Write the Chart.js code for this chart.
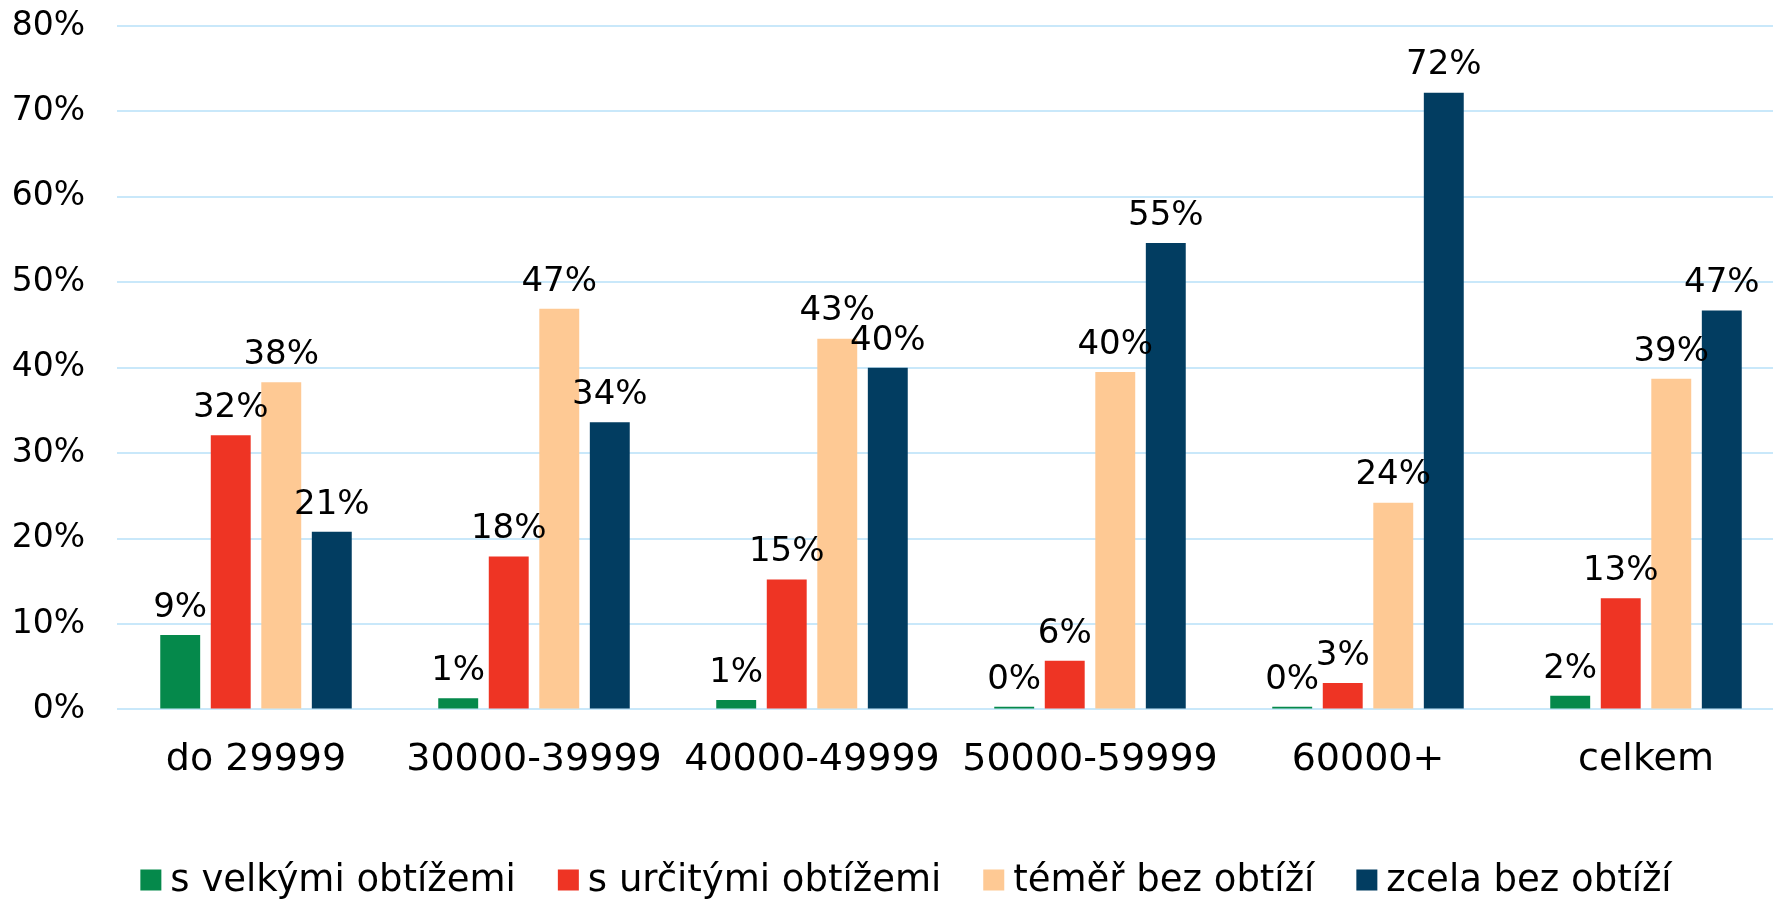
<!DOCTYPE html>
<html lang="cs">

<head>
  <meta charset="UTF-8">
  <title>Obtíže podle příjmu</title>
  <script src="https://cdn.jsdelivr.net/npm/chart.js"></script>
  <style>
    html, body { margin: 0; padding: 0; overflow: hidden; background: #fff; }
  </style>
</head>

<body>

  <canvas id="myChart" width="1785" height="899"></canvas>

  <script>
    // Data (percent)
    const categories = ['do 29999', '30000-39999', '40000-49999', '50000-59999', '60000+', 'celkem'];
    const seriesNames = ['s velkými obtížemi', 's určitými obtížemi', 'téměř bez obtíží', 'zcela bez obtíží'];
    const velkeObtize = [8.7, 1.3, 1.1, 0.3, 0.3, 1.6];
    const urciteObtize = [32.1, 17.9, 15.2, 5.7, 3.1, 13.0];
    const temerBez = [38.3, 46.9, 43.4, 39.5, 24.2, 38.7];
    const zcelaBez = [20.8, 33.6, 40.0, 54.6, 72.2, 46.7];
    const yMin = 0, yMax = 80, yStep = 10;
    const colors = ['#05894b', '#ee3424', '#fec994', '#023d61'];

    const FONT = '"DejaVu Sans", Verdana, sans-serif';

    // value labels above the bars
    const valueLabels = {
      id: 'valueLabels',
      afterDatasetsDraw(chart) {
        const ctx = chart.ctx;
        ctx.save();
        ctx.font = '34px ' + FONT;
        ctx.fillStyle = '#000';
        ctx.textAlign = 'center';
        ctx.textBaseline = 'middle';
        chart.data.datasets.forEach((ds, i) => {
          chart.getDatasetMeta(i).data.forEach((bar, j) => {
            ctx.fillText(Math.round(ds.data[j]) + '%', bar.x, bar.y - 27);
          });
        });
        ctx.restore();
      }
    };

    // legend drawn at the bottom, Excel style
    const bottomLegend = {
      id: 'bottomLegend',
      afterDraw(chart) {
        const ctx = chart.ctx;
        const box = 21, gapText = 9, gapItem = 42, cy = 880;
        ctx.save();
        ctx.font = '37px ' + FONT;
        ctx.textBaseline = 'middle';
        const widths = chart.data.datasets.map(ds => ctx.measureText(ds.label).width);
        const total = widths.reduce((a, w) => a + box + gapText + w, 0) + gapItem * (widths.length - 1);
        let x = 906 - total / 2;
        chart.data.datasets.forEach((ds, i) => {
          ctx.fillStyle = ds.backgroundColor;
          ctx.fillRect(x, cy - box / 2, box, box);
          ctx.fillStyle = '#000';
          ctx.fillText(ds.label, x + box + gapText, cy + 1);
          x += box + gapText + widths[i] + gapItem;
        });
        ctx.restore();
      }
    };

    const seriesData = [velkeObtize, urciteObtize, temerBez, zcelaBez];

    const data = {
      labels: categories,
      datasets: seriesNames.map((name, i) => ({
        label: name,
        data: seriesData[i],
        backgroundColor: colors[i],
        barPercentage: 0.79,
        categoryPercentage: 0.727
      }))
    };

    const config = {
      type: 'bar',
      data: data,
      plugins: [valueLabels, bottomLegend],
      options: {
        responsive: false,
        animation: false,
        layout: { padding: { top: 26, bottom: 88, left: 0, right: 0 } },
        plugins: {
          legend: { display: false },
          tooltip: { enabled: false }
        },
        scales: {
          x: {
            grid: { display: false, drawTicks: false },
            border: { display: false },
            ticks: { color: '#000', font: { family: FONT, size: 38 }, padding: 28 }
          },
          y: {
            min: yMin,
            max: yMax,
            afterFit: s => { s.width = 117; s.paddingTop = 0; },
            grid: { color: '#c9e8fa', lineWidth: 2, drawTicks: false },
            border: { display: false },
            ticks: {
              stepSize: yStep,
              color: '#000',
              padding: 32,
              font: { family: FONT, size: 33 },
              callback: v => v + '%'
            }
          }
        }
      }
    };

    const myChart = new Chart(document.getElementById('myChart'), config);
  </script>

</body>

</html>
